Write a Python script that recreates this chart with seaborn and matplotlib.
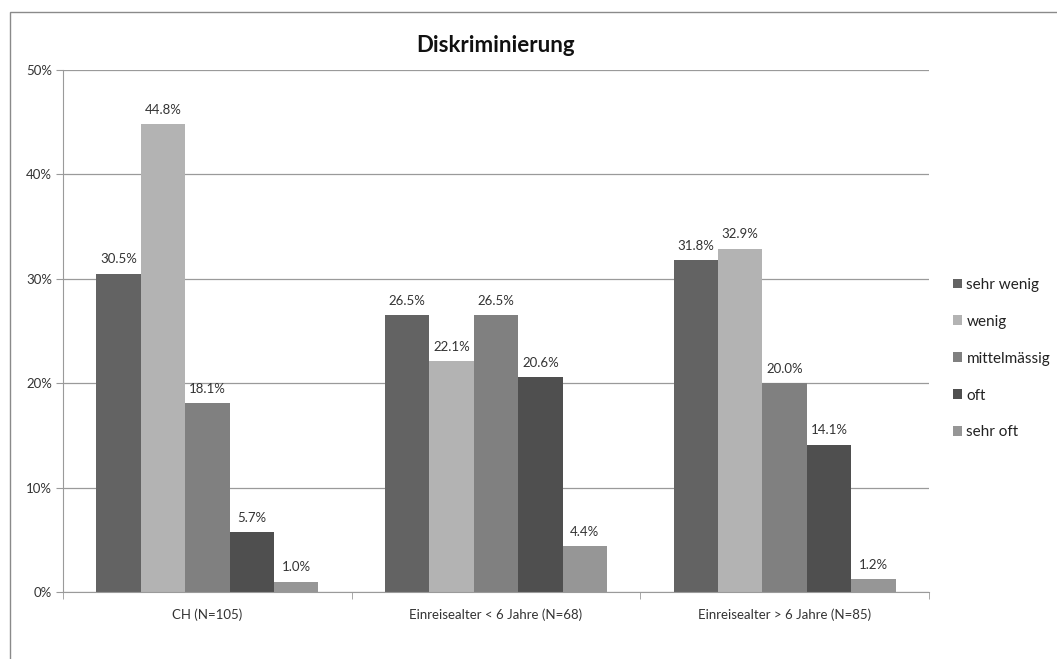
import matplotlib
matplotlib.use("Agg")
import matplotlib.pyplot as plt
from matplotlib.patches import Rectangle, Patch
from matplotlib.ticker import MultipleLocator, FixedLocator, PercentFormatter
import seaborn as sns
import pandas as pd

groups = ["CH (N=105)", "Einreisealter < 6 Jahre (N=68)", "Einreisealter > 6 Jahre (N=85)"]
levels = ["sehr wenig", "wenig", "mittelmässig", "oft", "sehr oft"]
sehr_wenig = [30.5, 26.5, 31.8]
wenig = [44.8, 22.1, 32.9]
mittelmaessig = [18.1, 26.5, 20.0]
oft = [5.7, 20.6, 14.1]
sehr_oft = [1.0, 4.4, 1.2]
colors = ["#636363", "#b3b3b3", "#808080", "#4f4f4f", "#969696"]

series = [sehr_wenig, wenig, mittelmaessig, oft, sehr_oft]
df = pd.DataFrame(
    [(g, lvl, vals[i]) for lvl, vals in zip(levels, series) for i, g in enumerate(groups)],
    columns=["Gruppe", "Haeufigkeit", "Wert"],
)

sns.set_style("white")
plt.rcParams["font.family"] = ["Lato", "DejaVu Sans"]

fig = plt.figure(figsize=(10.57, 6.59), dpi=100)
W, H = 1057, 659
ax = fig.add_axes([63 / W, 1 - 592 / H, (929 - 63) / W, (592 - 70) / H])

sns.barplot(data=df, x="Gruppe", y="Wert", hue="Haeufigkeit", order=groups,
            hue_order=levels, palette=colors, width=0.77, gap=0, ax=ax,
            saturation=1, legend=False, linewidth=0)

for cont in ax.containers:
    ax.bar_label(cont, labels=[f"{v:.1f}%" for v in cont.datavalues],
                 padding=6, fontsize=9.5, color="#333333")

ax.set_ylim(0, 50)
ax.set_xlim(-0.5, 2.5)
ax.yaxis.set_major_locator(MultipleLocator(10))
ax.yaxis.set_major_formatter(PercentFormatter(decimals=0))
ax.grid(axis="y", color="#9a9a9a", linewidth=0.9)
ax.set_axisbelow(True)
for s in ["top", "right"]:
    ax.spines[s].set_visible(False)
ax.spines["left"].set_color("#9a9a9a")
ax.spines["bottom"].set_color("#9a9a9a")
ax.tick_params(axis="y", length=5, color="#9a9a9a", labelsize=9.5, labelcolor="#333333", pad=3, left=True)
ax.tick_params(axis="x", length=0, labelsize=9.5, labelcolor="#333333", pad=12)
ax.xaxis.set_minor_locator(FixedLocator([-0.5, 0.5, 1.5, 2.5]))
ax.tick_params(axis="x", which="minor", length=5, color="#9a9a9a", bottom=True)
ax.set_xlabel("")
ax.set_ylabel("")

fig.text(496 / W, 1 - 46 / H, "Diskriminierung", ha="center", va="center",
         fontsize=16, fontweight="bold", color="#111111")

handles = [Patch(facecolor=c, edgecolor="none") for c in colors]
fig.legend(handles, levels, loc="upper left", bbox_to_anchor=(939 / W, 1 - 264 / H),
           frameon=False, fontsize=11, handlelength=0.6, handleheight=0.6,
           handletextpad=0.3, labelspacing=1.5, labelcolor="#222222")

fig.patches.append(Rectangle((10 / W, -0.1), 1.2, 1 - 12 / H + 0.1, transform=fig.transFigure,
                             fill=False, edgecolor="#8a8a8a", linewidth=1))

fig.savefig("out.png", dpi=100)
